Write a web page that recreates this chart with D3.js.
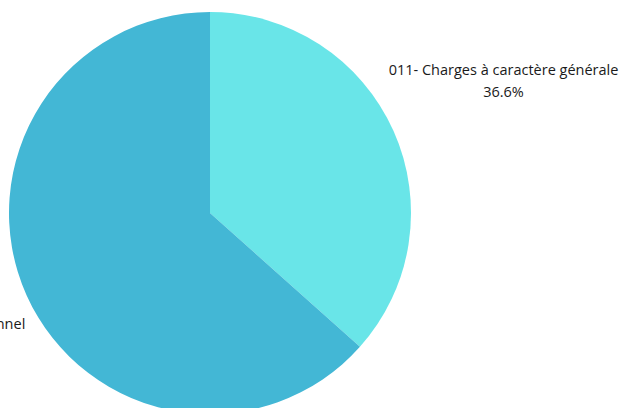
<!DOCTYPE html>
<html><head><meta charset="utf-8">
<script src="https://cdn.jsdelivr.net/npm/d3@7"></script>
<style>body{margin:0;background:#fff}svg{display:block}</style>
</head><body>
<svg id="c" width="625" height="408"></svg>
<script>
const categories = ["011- Charges à caractère générale", "012- Charges de personnel"];
const values = [36.6, 63.4];
const colors = ["#69E5E8", "#43B7D5"];

const svg = d3.select("#c");
const cx = 210, cy = 213, r = 201;
const labelFactor = [1.6, 1.5];
const g = svg.append("g").attr("transform", `translate(${cx},${cy})`);
const pie = d3.pie().sort(null).value(d => d)(values);
const arc = d3.arc().innerRadius(0).outerRadius(r);

g.selectAll("path").data(pie).join("path")
  .attr("d", arc).attr("fill", (d, i) => colors[i]);

const lab = g.selectAll("g.lab").data(pie).join("g").attr("class", "lab")
  .attr("transform", (d, i) => {
    const la = d3.arc().innerRadius(r * labelFactor[i]).outerRadius(r * labelFactor[i]);
    const p = la.centroid(d); return `translate(${p[0]},${p[1]})`;
  });
lab.append("text").attr("text-anchor", "middle").attr("y", -7)
  .style("font-family", "'Open Sans', sans-serif").style("font-size", "14.5px").attr("fill", "#1a1a1a")
  .text((d, i) => categories[i]);
lab.append("text").attr("text-anchor", "middle").attr("y", 15)
  .style("font-family", "'Open Sans', sans-serif").style("font-size", "14.5px").attr("fill", "#1a1a1a")
  .text(d => d.data.toFixed(1) + "%");
</script>
</body></html>
